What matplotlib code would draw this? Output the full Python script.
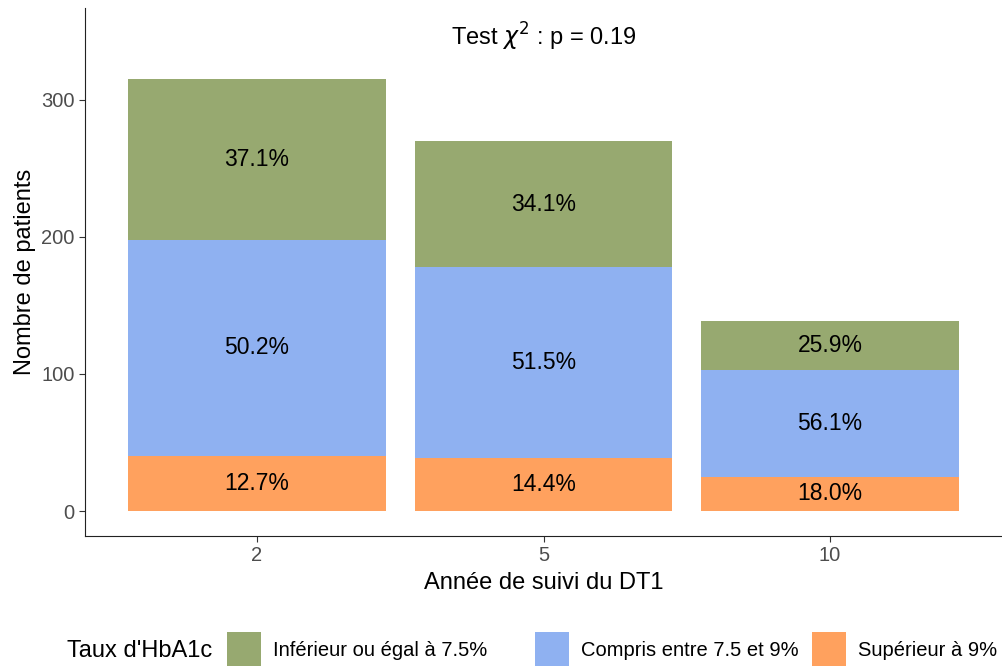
import numpy as np
import matplotlib
matplotlib.use("Agg")
import matplotlib.pyplot as plt
from matplotlib.patches import Rectangle

plt.rcParams['font.family'] = ['Liberation Sans', 'DejaVu Sans']

annees = ['2', '5', '10']
niveaux = ['Inférieur ou égal à 7.5%', 'Compris entre 7.5 et 9%', 'Supérieur à 9%']
couleurs = ['#97A970', '#8FB1F1', '#FFA15E']

# effectifs par niveau d'HbA1c (du bas vers le haut : >9, 7.5-9, <=7.5)
sup_9 = [40, 39, 25]
entre = [158, 139, 78]
inf_75 = [117, 92, 36]

totaux = np.array(sup_9) + np.array(entre) + np.array(inf_75)

W, H = 1002, 666
fig = plt.figure(figsize=(W / 100, H / 100), dpi=100)
ax = fig.add_axes([85 / W, 1 - 536 / H, 1 - 85 / W, (536 - 8) / H])

x = np.arange(len(annees))
bas = np.zeros(len(annees))
for vals, col in zip([sup_9, entre, inf_75], [couleurs[2], couleurs[1], couleurs[0]]):
    vals = np.array(vals)
    ax.bar(x, vals, width=0.9, bottom=bas, color=col)
    for xi, b, v, t in zip(x, bas, vals, totaux):
        ax.text(xi, b + v / 2, f"{100 * v / t:.1f}%", ha='center', va='center',
                fontsize=16.5, color='black')
    bas += vals

ax.set_xlim(-0.6, 2.6)
ax.set_ylim(-18.2, 367)
ax.set_xticks(x)
ax.set_xticklabels(annees)
ax.set_yticks([0, 100, 200, 300])
ax.tick_params(colors='#333333', labelcolor='#4D4D4D', labelsize=14.5, length=4)
for s in ['top', 'right']:
    ax.spines[s].set_visible(False)
for s in ['left', 'bottom']:
    ax.spines[s].set_color('#222222')
ax.set_xlabel("Année de suivi du DT1", fontsize=17, labelpad=5)
ax.set_ylabel("Nombre de patients", fontsize=17, labelpad=4)

ax.text(1, 346, r"Test $\chi^2$ : p = 0.19", ha='center', va='center', fontsize=17)

# légende en bas, construite à la main
y_leg = 1 - 651 / H
fig.text(67 / W, y_leg, "Taux d'HbA1c", fontsize=17, va='center', ha='left')
cle_x = [227, 535, 812]
for px, c, lab in zip(cle_x, couleurs, niveaux):
    fig.add_artist(Rectangle((px / W, 1 - 666 / H), 34 / W, 34 / H,
                             transform=fig.transFigure, facecolor=c, edgecolor='none'))
    fig.text((px + 46) / W, y_leg, lab, fontsize=14.5, va='center', ha='left')

fig.savefig('out.png', dpi=100)
